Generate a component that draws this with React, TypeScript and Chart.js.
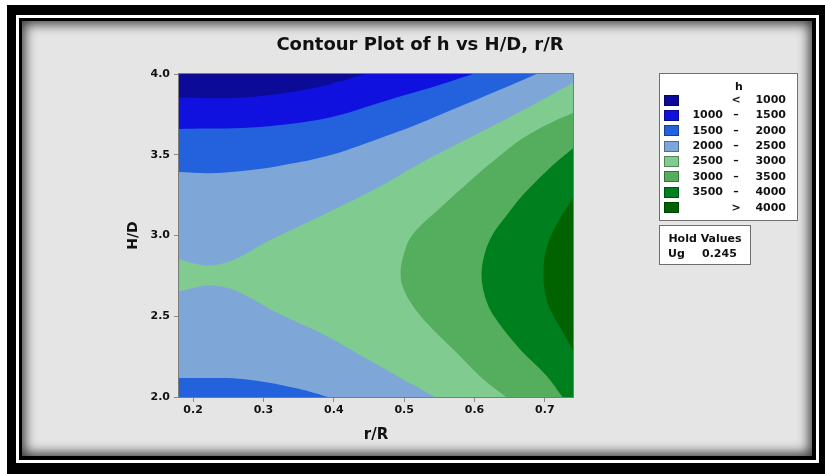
import React, { useEffect, useRef } from 'react';
import { Chart, registerables } from 'chart.js';

Chart.register(...registerables);

// ---------- axes ----------
const X_MIN = 0.18;
const X_MAX = 0.74;
const Y_MIN = 2.0;
const Y_MAX = 4.0;
const X_STEP = 0.1;
const Y_STEP = 0.5;

// ---------- texts ----------
const titleText = 'Contour Plot of h vs H/D, r/R';
const xTitle = 'r/R';
const yTitle = 'H/D';
const legendTitle = 'h';
const levelFrom = ['', '1000', '1500', '2000', '2500', '3000', '3500', ''];
const levelSign = ['<', '–', '–', '–', '–', '–', '–', '>'];
const levelTo = ['1000', '1500', '2000', '2500', '3000', '3500', '4000', '4000'];
const levelColors = ['#0b0b97', '#1111df', '#2461dc', '#7ea7d8', '#80cc90', '#55ad5e', '#007f1f', '#006300'];
const holdTitle = 'Hold Values';
const holdName = 'Ug';
const holdValue = '0.245';

// ---------- contour boundaries: [r/R, H/D] ----------
const h1000Top: [number, number][] = [
  [0.18, 3.856], [0.22, 3.85], [0.26, 3.852], [0.3, 3.865], [0.34, 3.888],
  [0.37, 3.912], [0.4, 3.945], [0.42, 3.968], [0.444, 4.0],
];
const h1500Top: [number, number][] = [
  [0.18, 3.659], [0.22, 3.662], [0.27, 3.665], [0.32, 3.682], [0.365, 3.707],
  [0.41, 3.748], [0.456, 3.81], [0.5, 3.868], [0.55, 3.932], [0.598, 4.0],
];
const h2000Top: [number, number][] = [
  [0.18, 3.393], [0.224, 3.386], [0.27, 3.4], [0.318, 3.428], [0.389, 3.49],
  [0.46, 3.593], [0.52, 3.69], [0.574, 3.789], [0.631, 3.893], [0.688, 4.0],
];
const h2500Top: [number, number][] = [
  [0.18, 2.855], [0.2, 2.828], [0.221, 2.814], [0.245, 2.83], [0.271, 2.876],
  [0.3, 2.95], [0.333, 3.02], [0.4, 3.16], [0.46, 3.29], [0.52, 3.44],
  [0.6, 3.62], [0.675, 3.79], [0.74, 3.944],
];
const h2500Bottom: [number, number][] = [
  [0.18, 2.653], [0.2, 2.675], [0.221, 2.69], [0.245, 2.68], [0.271, 2.638],
  [0.318, 2.525], [0.389, 2.38], [0.46, 2.205], [0.5, 2.105], [0.544, 2.0],
];
const h2000Bottom: [number, number][] = [
  [0.18, 2.118], [0.22, 2.118], [0.257, 2.116], [0.29, 2.1], [0.318, 2.08],
  [0.345, 2.055], [0.366, 2.033], [0.392, 2.0],
];
const h3000: [number, number][] = [
  [0.645, 2.0], [0.612, 2.111], [0.574, 2.277], [0.545, 2.4], [0.527, 2.483],
  [0.51, 2.58], [0.499, 2.67], [0.495, 2.752], [0.498, 2.86], [0.511, 3.0],
  [0.551, 3.17], [0.598, 3.355], [0.635, 3.49], [0.669, 3.603], [0.705, 3.69],
  [0.74, 3.758],
];
const h3500: [number, number][] = [
  [0.725, 2.0], [0.702, 2.133], [0.664, 2.298], [0.627, 2.504], [0.615, 2.62],
  [0.61, 2.752], [0.614, 2.88], [0.625, 3.0], [0.645, 3.12], [0.669, 3.252],
  [0.712, 3.438], [0.74, 3.541],
];
const h4000: [number, number][] = [
  [0.74, 2.287], [0.726, 2.4], [0.707, 2.545], [0.7, 2.65], [0.698, 2.752],
  [0.7, 2.88], [0.709, 3.0], [0.722, 3.11], [0.74, 3.231],
];

// ---------- polygon building (closing outside the plotted range, clipped by chart) ----------
type P = [number, number];
const M = 0.2;
const corner: Record<string, P> = {
  TL: [X_MIN - M, Y_MAX + M],
  TR: [X_MAX + M, Y_MAX + M],
  BL: [X_MIN - M, Y_MIN - M],
  BR: [X_MAX + M, Y_MIN - M],
};
// continue the boundary a little past the plot edge, in its own direction
function extend(edge: P, inner: P): P {
  return [edge[0] + (edge[0] - inner[0]), edge[1] + (edge[1] - inner[1])];
}
// then go far outside, perpendicular to the edge the boundary leaves through
function far(edge: P, ext: P): P {
  const e = 1e-9;
  const [x, y] = edge;
  if (x >= X_MAX - e) return [X_MAX + M, ext[1]];
  if (x <= X_MIN + e) return [X_MIN - M, ext[1]];
  if (y >= Y_MAX - e) return [ext[0], Y_MAX + M];
  return [ext[0], Y_MIN - M];
}
function polygon(b: P[], via: string[]): P[] {
  if (!b.length) return via.map((k) => corner[k]);
  const n = b.length;
  const e0 = extend(b[0], b[1]);
  const e1 = extend(b[n - 1], b[n - 2]);
  return [far(b[0], e0), e0, ...b, e1, far(b[n - 1], e1), ...via.map((k) => corner[k])];
}

// painter's order: first is drawn first (bottom)
const layers: { b: P[]; via: string[]; level: number }[] = [
  { b: [], via: ['BL', 'BR', 'TR', 'TL'], level: 4 },
  { b: h2500Top, via: ['TR', 'TL'], level: 3 },
  { b: h2000Top, via: ['TL'], level: 2 },
  { b: h1500Top, via: ['TL'], level: 1 },
  { b: h1000Top, via: ['TL'], level: 0 },
  { b: h2500Bottom, via: ['BL'], level: 3 },
  { b: h2000Bottom, via: ['BL'], level: 2 },
  { b: h3000, via: ['BR'], level: 5 },
  { b: h3500, via: ['BR'], level: 6 },
  { b: h4000, via: [], level: 7 },
];

const FONT = 'DejaVu Sans';

const framePlugin = {
  id: 'plotFrame',
  afterDatasetsDraw(chart: any) {
    const { ctx, chartArea: a } = chart;
    ctx.save();
    ctx.strokeStyle = '#7c7c7c';
    ctx.lineWidth = 1;
    ctx.strokeRect(a.left - 0.5, a.top - 0.5, a.right - a.left + 1, a.bottom - a.top + 1);
    ctx.restore();
  },
};

export default function App() {
  const ref = useRef<HTMLCanvasElement>(null);

  useEffect(() => {
    const canvas = ref.current;
    if (!canvas) return;
    const datasets = layers.map((l, i) => ({
      data: polygon(l.b, l.via).map(([x, y]) => ({ x, y })),
      showLine: true,
      fill: 'shape',
      backgroundColor: levelColors[l.level],
      borderColor: levelColors[l.level],
      borderWidth: 0,
      pointRadius: 0,
      pointHoverRadius: 0,
      tension: l.b.length ? 0.35 : 0,
      capBezierPoints: false,
      order: layers.length - i,
    }));
    const chart = new Chart(canvas, {
      type: 'scatter',
      data: { datasets } as any,
      options: {
        responsive: false,
        devicePixelRatio: 1,
        animation: false,
        events: [],
        layout: { padding: { left: 20, right: 5, top: 0, bottom: 8 } },
        plugins: {
          legend: { display: false },
          tooltip: { enabled: false },
          title: {
            display: true,
            text: titleText,
            color: '#111',
            font: { family: FONT, size: 18, weight: 'bold' },
            padding: { top: 35, bottom: 17.4 },
          },
        },
        scales: {
          x: {
            type: 'linear',
            min: X_MIN,
            max: X_MAX,
            border: { display: false },
            grid: { display: true, drawOnChartArea: false, drawTicks: true, tickLength: 5, color: '#8a8a8a', tickColor: '#8a8a8a' },
            ticks: {
              stepSize: X_STEP,
              includeBounds: false,
              autoSkip: false,
              maxRotation: 0,
              padding: 2,
              color: '#111',
              font: { family: FONT, size: 11, weight: 'bold' },
              callback: (v: any) => Number(v).toFixed(1),
            },
            title: {
              display: true,
              text: xTitle,
              color: '#111',
              font: { family: FONT, size: 15, weight: 'bold' },
              padding: { top: 0, bottom: 22 },
            },
            afterFit: (s: any) => { s.height = 69; },
          },
          y: {
            type: 'linear',
            position: 'left',
            min: Y_MIN,
            max: Y_MAX,
            border: { display: false },
            grid: { display: true, drawOnChartArea: false, drawTicks: true, tickLength: 5, color: '#8a8a8a', tickColor: '#8a8a8a' },
            ticks: {
              stepSize: Y_STEP,
              autoSkip: false,
              padding: 4,
              color: '#111',
              font: { family: FONT, size: 11, weight: 'bold' },
              callback: (v: any) => Number(v).toFixed(1),
            },
            title: {
              display: true,
              text: yTitle,
              color: '#111',
              font: { family: FONT, size: 14, weight: 'bold' },
              padding: { top: 104.6, bottom: 0 },
            },
            afterFit: (s: any) => { s.width = 159; },
          },
          yRight: {
            type: 'linear',
            position: 'right',
            display: true,
            min: Y_MIN,
            max: Y_MAX,
            border: { display: false },
            grid: { display: false },
            ticks: { display: false },
            afterFit: (s: any) => { s.width = 247; },
          },
        },
      } as any,
      plugins: [framePlugin],
    });
    return () => chart.destroy();
  }, []);

  const rowCenters = levelColors.map((_, i) => 100 + i * 15.37);
  const textStyle: React.CSSProperties = {
    position: 'absolute',
    fontFamily: `"${FONT}", sans-serif`,
    fontSize: 11,
    fontWeight: 'bold',
    color: '#111',
    whiteSpace: 'nowrap',
    lineHeight: '14px',
    height: 14,
  };

  return (
    <div style={{ position: 'fixed', left: 0, top: 0, width: 825, height: 474, background: '#fff', overflow: 'hidden' }}>
      <div style={{ position: 'absolute', left: 7, top: 5, width: 818, height: 469, background: '#000' }} />
      <div style={{ position: 'absolute', left: 16, top: 15, width: 803, height: 448, background: '#fff' }} />
      <div style={{ position: 'absolute', left: 19, top: 18, width: 797, height: 442, background: '#000' }} />
      <div
        style={{
          position: 'absolute', left: 22, top: 21, width: 790, height: 435, background: '#e5e5e5',
          boxShadow: 'inset 0 0 12px 3px rgba(0,0,0,0.75)',
        }}
      />
      <canvas ref={ref} width={825} height={474} style={{ position: 'absolute', left: 0, top: 0, width: 825, height: 474 }} />

      {/* legend box */}
      <div style={{ position: 'absolute', left: 659, top: 73, width: 139, height: 148, boxSizing: 'border-box', border: '1px solid #6e6e6e', background: '#fff' }} />
      <div style={{ ...textStyle, left: 719, width: 40, textAlign: 'center', top: 86.7 - 7 }}>{legendTitle}</div>
      {levelColors.map((c, i) => {
        const cy = rowCenters[i];
        return (
          <React.Fragment key={i}>
            <div style={{ position: 'absolute', left: 664, top: cy - 5.5, width: 15, height: 11, boxSizing: 'border-box', background: c, border: '1px solid rgba(0,0,0,0.35)' }} />
            <div style={{ ...textStyle, left: 683, width: 40, textAlign: 'right', top: cy - 7 }}>{levelFrom[i]}</div>
            <div style={{ ...textStyle, left: 726, width: 20, textAlign: 'center', top: cy - 7 }}>{levelSign[i]}</div>
            <div style={{ ...textStyle, left: 746, width: 40, textAlign: 'right', top: cy - 7 }}>{levelTo[i]}</div>
          </React.Fragment>
        );
      })}

      {/* hold values box */}
      <div style={{ position: 'absolute', left: 659, top: 225, width: 92, height: 40, boxSizing: 'border-box', border: '1px solid #6e6e6e', background: '#fff' }} />
      <div style={{ ...textStyle, left: 659, width: 92, textAlign: 'center', top: 239 - 7 }}>{holdTitle}</div>
      <div style={{ ...textStyle, left: 668, top: 254 - 7 }}>{holdName}</div>
      <div style={{ ...textStyle, left: 702, top: 254 - 7 }}>{holdValue}</div>
    </div>
  );
}
